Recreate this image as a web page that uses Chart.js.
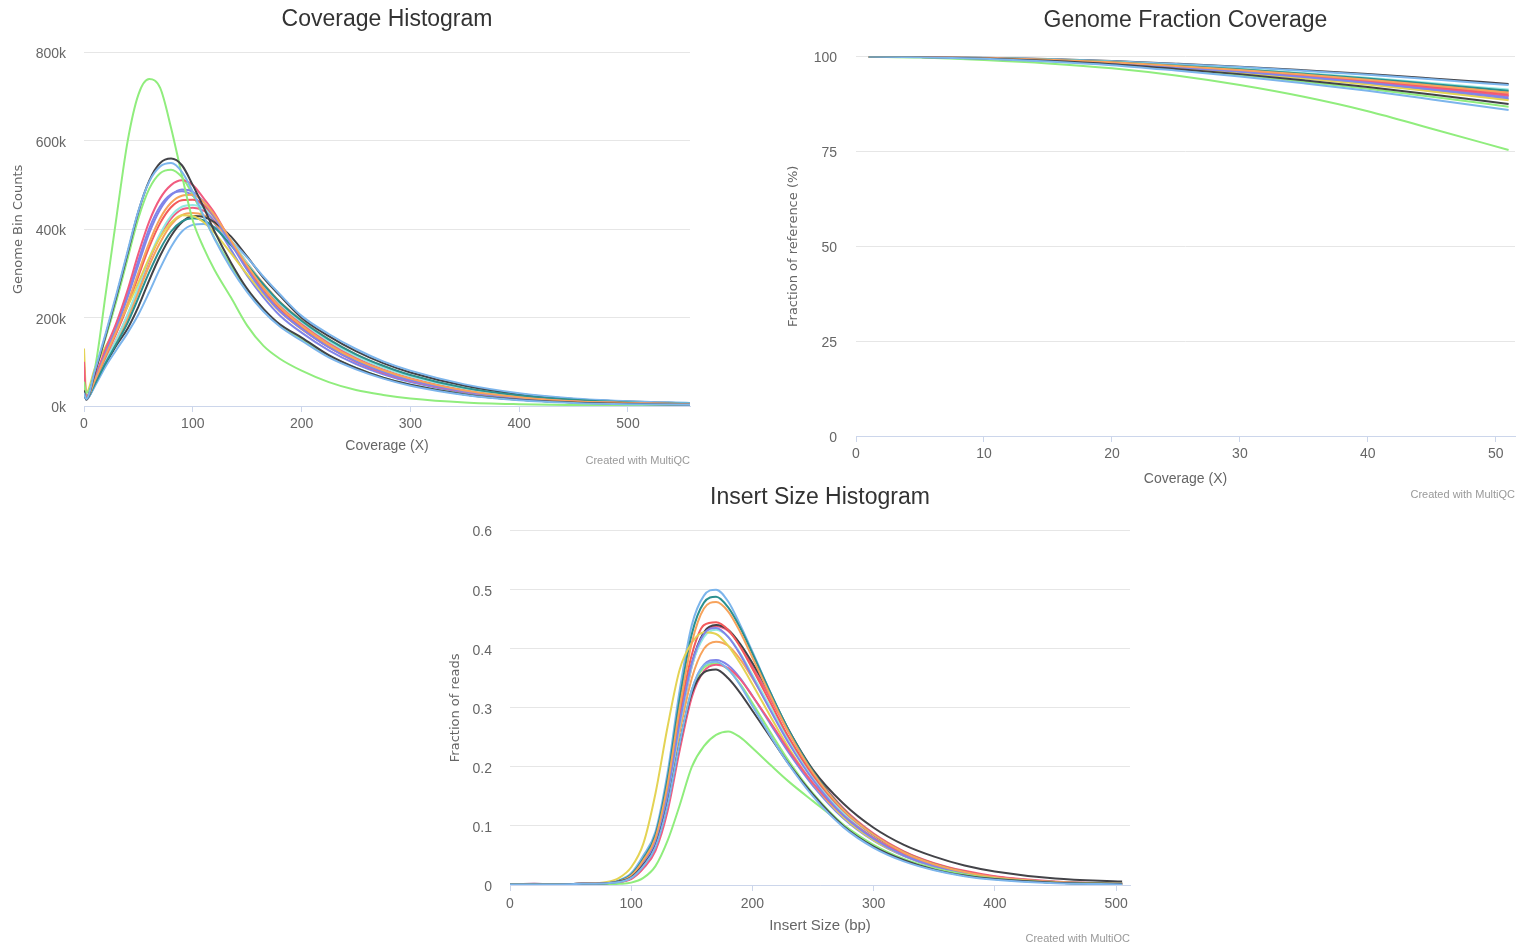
<!DOCTYPE html>
<html><head><meta charset="utf-8">
<script src="https://cdn.jsdelivr.net/npm/chart.js@4.4.1/dist/chart.umd.min.js"></script>
<style>
html,body{margin:0;padding:0;background:#fff;overflow:hidden;width:1517px;height:942px;}
.box{position:absolute;}
.credit{position:absolute;font-family:'Liberation Sans',Arial,sans-serif;font-size:11px;color:#999;white-space:nowrap;line-height:14px;}
</style></head><body>
<div class="box" style="left:0;top:0;"><canvas id="c1" width="700" height="470"></canvas></div>
<div class="box" style="left:770px;top:0;"><canvas id="c2" width="747" height="500"></canvas></div>
<div class="box" style="left:440px;top:475px;"><canvas id="c3" width="700" height="467"></canvas></div>
<div class="credit" style="right:827px;top:453px;">Created with MultiQC</div>
<div class="credit" style="right:2px;top:487px;">Created with MultiQC</div>
<div class="credit" style="right:387px;top:931px;">Created with MultiQC</div>
<script>
// ---------- Colours (one per sample) ----------
const seriesColors = ['#7cb5ec','#434348','#90ed7d','#f7a35c','#8085e9','#f15c80','#e4d354','#2b908f','#f45b5b','#91e8e1',
                      '#7cb5ec','#434348','#90ed7d','#f7a35c','#8085e9','#f15c80'];

// ---------- Coverage Histogram (x = coverage, y = genome bin counts in thousands) ----------
const covX = [0,2,10,20,30,40,50,60,70,80,90,100,110,120,135,150,165,180,200,225,250,275,300,350,400,450,500,557];
const covS01 = [30,16,80,165,255,350,442,508,542,550,530,485,430,378,312,258,214,180,148,110,83,62,46,25,13,7,4,3];
const covS02 = [35,15,75,160,250,345,440,510,550,560,545,500,450,395,325,265,220,185,155,115,86,64,48,26,14,8,5,3];
const covS03 = [55,30,85,255,430,598,705,740,720,630,522,420,358,308,246,182,136,107,80,54,36,25,17,8,4,2,1.5,1];
const covS04 = [40,18,58,115,170,232,302,370,425,460,476,478,462,432,375,318,267,224,182,139,106,81,62,35,20,11,7,4];
const covS05 = [45,18,60,120,178,245,320,392,445,477,490,485,462,428,368,308,257,215,175,133,101,77,58,33,18,10,6,4];
const covS06 = [100,20,65,130,190,262,345,418,470,500,511,500,470,437,372,310,258,215,175,133,100,75,57,32,18,10,6,4];
const covS07 = [130,30,85,135,178,225,280,335,382,415,432,430,416,392,346,298,253,214,174,134,102,77,58,33,18,10,6,4];
const covS08 = [40,16,50,98,142,188,245,303,355,395,418,425,420,404,364,319,275,235,193,151,117,91,70,41,24,14,8,5];
const covS09 = [50,17,56,112,166,226,294,360,414,450,466,467,455,427,372,315,264,221,179,137,104,79,60,34,19,11,7,4];
const covS10 = [45,18,52,104,152,207,270,335,390,430,451,455,448,425,376,323,274,232,190,147,113,87,67,39,22,13,8,5];
const covS11 = [30,15,45,90,128,165,207,258,312,360,395,410,412,402,374,336,293,253,204,163,129,101,80,49,29,17,11,7];
const covS12 = [35,14,48,95,138,175,225,285,340,385,416,430,428,416,384,338,290,250,200,158,124,97,76,46,27,16,10,6];
const covS13 = [50,20,78,155,240,333,425,492,527,535,518,478,428,380,318,262,218,183,152,114,86,64,48,26,14,8,5,3];
const covS14 = [55,20,55,102,146,198,257,318,370,410,432,437,432,414,372,324,277,236,194,151,117,90,69,40,23,13,8,5];
const covS15 = [40,17,62,124,184,252,330,402,452,479,486,476,450,414,354,295,246,205,166,126,95,72,54,30,17,9,5,3];
const covS16 = [90,22,55,106,152,205,266,330,384,424,445,449,442,421,374,321,270,228,186,143,109,83,63,36,20,12,7,4];
const covYTicks = [0,200,400,600,800];

// ---------- Genome Fraction Coverage (x = coverage, y = % of reference) ----------
const gfX = [1,5,10,15,20,25,30,35,40,45,51];
const gfS01 = [100,99.86,99.44,98.73,97.74,96.33,94.78,92.95,90.98,88.72,85.9];
const gfS02 = [100,99.88,99.5,98.88,98.0,96.75,95.38,93.75,92.0,90.0,87.5];
const gfS03 = [100,99.75,99.1,98.2,96.9,95.0,92.5,89.4,85.6,81.0,75.4];
const gfS04 = [100,99.9,99.62,99.15,98.48,97.53,96.49,95.25,93.92,92.4,90.5];
const gfS05 = [100,99.89,99.57,99.03,98.27,97.19,96.0,94.6,93.09,91.36,89.2];
const gfS06 = [100,99.9,99.58,99.06,98.34,97.3,96.15,94.8,93.34,91.68,89.6];
const gfS07 = [100,99.88,99.54,98.96,98.16,97.01,95.75,94.25,92.64,90.8,88.5];
const gfS08 = [100,99.91,99.64,99.19,98.56,97.66,96.67,95.5,94.24,92.8,91.0];
const gfS09 = [100,99.9,99.59,99.08,98.37,97.35,96.23,94.9,93.47,91.84,89.8];
const gfS10 = [100,99.91,99.65,99.22,98.61,97.74,96.78,95.65,94.43,93.04,91.3];
const gfS11 = [100,99.93,99.7,99.33,98.8,98.05,97.23,96.25,95.2,94.0,92.5];
const gfS12 = [100,99.93,99.71,99.35,98.85,98.13,97.34,96.4,95.39,94.24,92.8];
const gfS13 = [100,99.87,99.47,98.81,97.89,96.57,95.12,93.4,91.55,89.44,86.8];
const gfS14 = [100,99.9,99.63,99.17,98.53,97.6,96.6,95.4,94.1,92.64,90.8];
const gfS15 = [100,99.89,99.55,98.99,98.21,97.09,95.86,94.4,92.83,91.04,88.8];
const gfS16 = [100,99.9,99.61,99.12,98.43,97.45,96.37,95.1,93.73,92.16,90.2];

// ---------- Insert Size Histogram (x = insert size bp, y = fraction of reads) ----------
const insX = [0,20,40,60,80,90,100,110,120,130,140,150,160,170,180,190,200,215,230,250,275,300,325,350,375,400,450,505];
const insS01 = [0.001,0.001,0.001,0.002,0.003,0.005,0.012,0.032,0.064,0.135,0.24,0.33,0.372,0.378,0.365,0.338,0.303,0.252,0.204,0.15,0.098,0.063,0.04,0.025,0.015,0.009,0.003,0.001];
const insS02 = [0.001,0.001,0.001,0.002,0.003,0.006,0.013,0.034,0.066,0.138,0.24,0.325,0.36,0.365,0.35,0.325,0.295,0.25,0.205,0.153,0.1,0.065,0.042,0.026,0.016,0.01,0.004,0.002];
const insS03 = [0.001,0.001,0.001,0.001,0.001,0.002,0.004,0.012,0.032,0.075,0.135,0.2,0.235,0.254,0.26,0.25,0.232,0.203,0.175,0.142,0.102,0.068,0.044,0.028,0.018,0.011,0.004,0.002];
const insS04 = [0.001,0.001,0.001,0.002,0.003,0.006,0.016,0.042,0.08,0.17,0.3,0.41,0.468,0.479,0.463,0.428,0.385,0.32,0.258,0.19,0.127,0.085,0.055,0.035,0.022,0.013,0.005,0.002];
const insS05 = [0.001,0.001,0.001,0.002,0.003,0.006,0.013,0.036,0.072,0.155,0.275,0.375,0.425,0.435,0.42,0.39,0.352,0.295,0.24,0.178,0.118,0.078,0.05,0.032,0.02,0.012,0.004,0.002];
const insS06 = [0.001,0.002,0.001,0.002,0.003,0.005,0.01,0.028,0.058,0.125,0.228,0.318,0.362,0.373,0.367,0.348,0.32,0.275,0.228,0.172,0.118,0.08,0.053,0.034,0.022,0.014,0.005,0.002];
const insS07 = [0.001,0.001,0.001,0.002,0.005,0.012,0.03,0.07,0.155,0.268,0.365,0.41,0.428,0.425,0.405,0.375,0.34,0.285,0.232,0.172,0.115,0.076,0.05,0.032,0.02,0.012,0.004,0.002];
const insS08 = [0.001,0.001,0.001,0.002,0.003,0.007,0.018,0.045,0.085,0.18,0.315,0.425,0.478,0.488,0.47,0.435,0.392,0.325,0.262,0.192,0.128,0.085,0.055,0.035,0.022,0.013,0.005,0.002];
const insS09 = [0.001,0.001,0.001,0.002,0.003,0.006,0.015,0.04,0.078,0.165,0.29,0.39,0.44,0.445,0.432,0.403,0.366,0.308,0.25,0.186,0.126,0.085,0.056,0.036,0.023,0.014,0.005,0.002];
const insS10 = [0.001,0.001,0.001,0.002,0.003,0.006,0.013,0.035,0.07,0.15,0.27,0.37,0.42,0.432,0.42,0.392,0.356,0.3,0.245,0.182,0.122,0.081,0.052,0.033,0.021,0.013,0.005,0.002];
const insS11 = [0.001,0.002,0.001,0.002,0.003,0.008,0.02,0.05,0.09,0.19,0.33,0.44,0.49,0.5,0.48,0.44,0.395,0.325,0.26,0.19,0.125,0.082,0.052,0.033,0.02,0.012,0.005,0.002];
const insS12 = [0.001,0.001,0.001,0.002,0.003,0.006,0.014,0.037,0.073,0.155,0.275,0.375,0.428,0.44,0.432,0.408,0.376,0.322,0.262,0.195,0.138,0.097,0.068,0.048,0.033,0.023,0.011,0.006];
const insS13 = [0.001,0.001,0.001,0.002,0.003,0.005,0.012,0.032,0.064,0.135,0.24,0.33,0.368,0.375,0.365,0.34,0.308,0.258,0.21,0.155,0.102,0.066,0.042,0.026,0.016,0.01,0.004,0.002];
const insS14 = [0.001,0.001,0.001,0.002,0.003,0.005,0.012,0.033,0.067,0.145,0.258,0.35,0.4,0.412,0.405,0.382,0.35,0.298,0.245,0.184,0.124,0.083,0.054,0.035,0.022,0.013,0.005,0.002];
const insS15 = [0.001,0.001,0.001,0.002,0.003,0.005,0.012,0.032,0.064,0.135,0.24,0.33,0.373,0.381,0.372,0.35,0.32,0.272,0.224,0.168,0.113,0.075,0.049,0.031,0.02,0.012,0.004,0.002];
const insS16 = [0.001,0.001,0.001,0.002,0.003,0.005,0.011,0.03,0.065,0.145,0.265,0.37,0.425,0.438,0.43,0.405,0.37,0.315,0.258,0.192,0.13,0.087,0.057,0.037,0.024,0.015,0.006,0.002];

const covSeries = [covS01,covS02,covS03,covS04,covS05,covS06,covS07,covS08,covS09,covS10,covS11,covS12,covS13,covS14,covS15,covS16];
const gfSeries  = [gfS01,gfS02,gfS03,gfS04,gfS05,gfS06,gfS07,gfS08,gfS09,gfS10,gfS11,gfS12,gfS13,gfS14,gfS15,gfS16];
const insSeries = [insS01,insS02,insS03,insS04,insS05,insS06,insS07,insS08,insS09,insS10,insS11,insS12,insS13,insS14,insS15,insS16];

// ---------- Build ----------
const FONT = "'Liberation Sans', Arial, sans-serif";
const YFONT = "'DejaVu Sans', Verdana, sans-serif";
Chart.defaults.font.family = FONT;

function datasets(xs, list) {
  return list.map((ys, i) => ({
    label: 'Sample ' + (i + 1),
    data: xs.map((x, j) => ({x: x, y: ys[j]})),
    borderColor: seriesColors[i],
    backgroundColor: seriesColors[i],
    borderWidth: 2,
    pointRadius: 0,
    fill: false,
    cubicInterpolationMode: 'monotone'
  }));
}

function makeChart(id, o) {
  return new Chart(document.getElementById(id), {
    type: 'line',
    data: {datasets: datasets(o.xs, o.series)},
    options: {
      responsive: false, animation: false, events: [],
      layout: {padding: {top: 0, left: 0, bottom: 0, right: o.padRight}},
      plugins: {
        legend: {display: false}, tooltip: {enabled: false},
        title: {display: true, fullSize: false, text: o.title, color: '#333333',
          font: {family: FONT, size: 23, weight: 'normal', lineHeight: 1.2},
          padding: {top: o.titleTop, bottom: o.titleBottom}}
      },
      scales: {
        x: {
          type: 'linear', min: 0, max: o.xMax,
          afterFit: s => { s.height = o.xHeight; },
          ticks: {stepSize: o.xStep, includeBounds: false, color: '#666666', font: {size: 14}, padding: o.xTickPad, maxRotation: 0, autoSkip: false},
          grid: {drawOnChartArea: false, color: '#ccd6eb', tickLength: 6},
          border: {color: '#ccd6eb', width: 1},
          title: {display: true, text: o.xTitle, color: '#666666', font: {size: o.xTitleSize, lineHeight: 1.2}, padding: {top: 0, bottom: o.xTitlePad}}
        },
        y: {
          min: 0, max: o.yMax,
          afterFit: s => { s.width = o.yWidth; },
          ticks: {stepSize: o.yStep, color: '#666666', font: {size: 14}, padding: o.yTickPad, labelOffset: 2, callback: o.yFmt},
          grid: {color: '#e6e6e6', drawTicks: false},
          border: {display: false},
          title: {display: true, text: o.yTitle, color: '#666666', font: {family: YFONT, size: 13, lineHeight: 1.2}, padding: {top: o.yTitlePad, bottom: 0}}
        }
      }
    }
  });
}

makeChart('c1', {
  xs: covX, series: covSeries, title: 'Coverage Histogram',
  padRight: 10, titleTop: 6, titleBottom: 19,
  xMax: 557, xStep: 100, xHeight: 64, xTickPad: 4, xTitle: 'Coverage (X)', xTitleSize: 14, xTitlePad: 15,
  yMax: covYTicks[covYTicks.length - 1], yStep: covYTicks[1] - covYTicks[0], yWidth: 84, yTickPad: 18,
  yFmt: v => v + 'k', yTitle: 'Genome Bin Counts', yTitlePad: 11
});

makeChart('c2', {
  xs: gfX, series: gfSeries, title: 'Genome Fraction Coverage',
  padRight: 2, titleTop: 7, titleBottom: 22,
  xMax: 51.5, xStep: 10, xHeight: 64, xTickPad: 4, xTitle: 'Coverage (X)', xTitleSize: 14, xTitlePad: 12,
  yMax: 100, yStep: 25, yWidth: 86, yTickPad: 19,
  yFmt: v => String(v), yTitle: 'Fraction of reference (%)', yTitlePad: 16
});

makeChart('c3', {
  xs: insX, series: insSeries, title: 'Insert Size Histogram',
  padRight: 10, titleTop: 9, titleBottom: 19,
  xMax: 511.5, xStep: 100, xHeight: 57, xTickPad: 5, xTitle: 'Insert Size (bp)', xTitleSize: 15, xTitlePad: 7,
  yMax: 0.6, yStep: 0.1, yWidth: 70, yTickPad: 18,
  yFmt: v => String(Math.round(v * 10) / 10), yTitle: 'Fraction of reads', yTitlePad: 8
});
</script>
</body></html>
